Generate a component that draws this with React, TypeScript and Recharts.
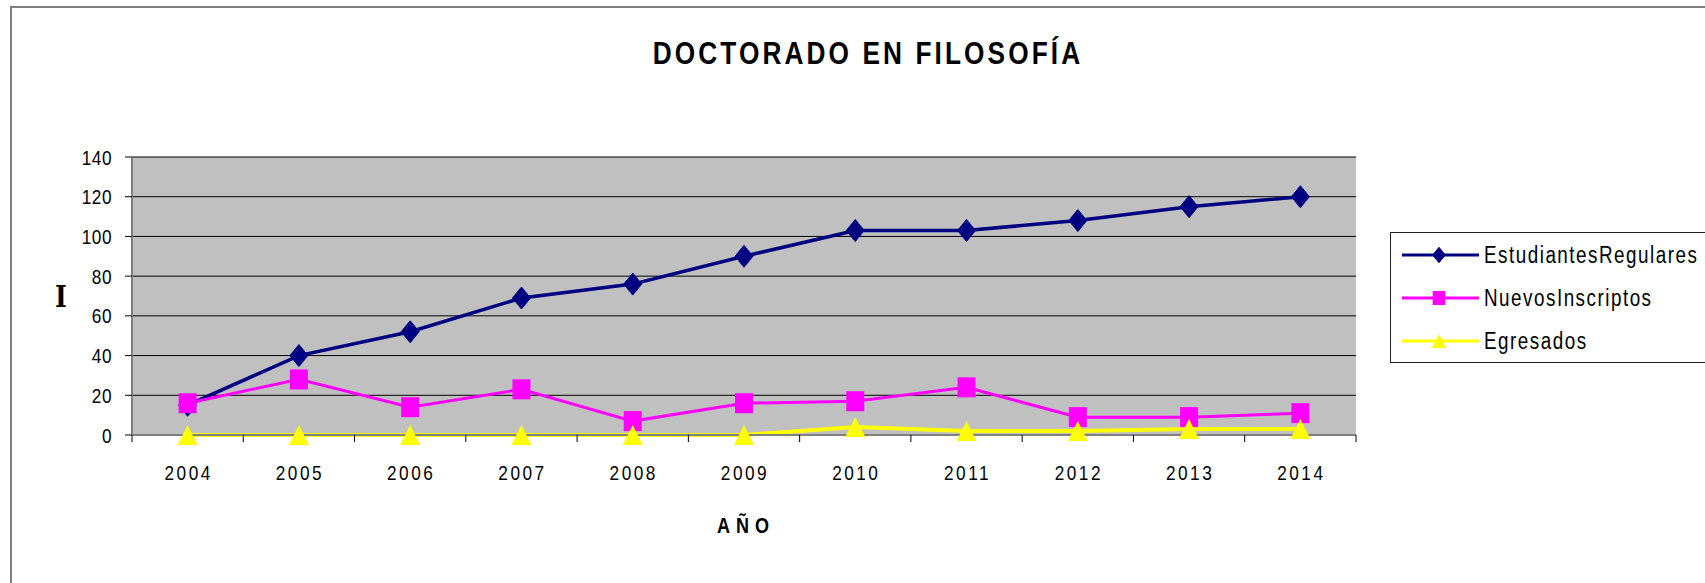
import React from 'react';
import {
  LineChart,
  Line,
  XAxis,
  YAxis,
  CartesianGrid,
  Legend,
} from 'recharts';

const years = ['2004', '2005', '2006', '2007', '2008', '2009', '2010', '2011', '2012', '2013', '2014'];
const estudiantesRegulares = [15, 40, 52, 69, 76, 90, 103, 103, 108, 115, 120];
const nuevosInscriptos = [16, 28, 14, 23, 7, 16, 17, 24, 9, 9, 11];
const egresados = [0, 0, 0, 0, 0, 0, 4, 2, 2, 3, 3];
const yTicks = [0, 20, 40, 60, 80, 100, 120, 140];

// no narrow font installed, so Liberation Sans is squeezed horizontally
const FONT = "'Liberation Sans', Arial, sans-serif";
const SQUEEZE = 0.82;

const W = 1705;
const H = 583;
const PLOT_LEFT = 132;
const PLOT_RIGHT = 1356;
const PLOT_TOP = 157;
const PLOT_BOTTOM = 435;
const BAND = (PLOT_RIGHT - PLOT_LEFT) / years.length;

const data = years.map((year, i) => ({
  year,
  regulares: estudiantesRegulares[i],
  nuevos: nuevosInscriptos[i],
  egresados: egresados[i],
}));

const series = [
  { key: 'regulares', name: 'EstudiantesRegulares', color: '#000080', width: 3.5, shape: 'diamond' },
  { key: 'nuevos', name: 'NuevosInscriptos', color: '#FF00FF', width: 3, shape: 'square' },
  { key: 'egresados', name: 'Egresados', color: '#FFFF00', width: 4, shape: 'triangle' },
];

const NText = ({
  x,
  y,
  anchor = 'start',
  size,
  spacing = 0,
  bold = false,
  children,
}: any) => (
  <text
    transform={`translate(${x},${y}) scale(${SQUEEZE},1)`}
    textAnchor={anchor}
    fontFamily={FONT}
    fontWeight={bold ? 'bold' : 'normal'}
    fontSize={size}
    letterSpacing={spacing / SQUEEZE}
    fill='#000'
  >
    {children}
  </text>
);

const marker = (shape: string, cx: number, cy: number, color: string, s = 1, key?: string) => {
  if (shape === 'diamond') {
    const pts = `${cx},${cy - 11 * s} ${cx + 9 * s},${cy} ${cx},${cy + 11 * s} ${cx - 9 * s},${cy}`;
    return <polygon key={key} points={pts} fill={color} stroke={color} />;
  }
  if (shape === 'square') {
    return <rect key={key} x={cx - 9 * s} y={cy - 10 * s} width={18 * s} height={20 * s} fill={color} />;
  }
  const pts = `${cx},${cy - 10 * s} ${cx + 10 * s},${cy + 10 * s} ${cx - 10 * s},${cy + 10 * s}`;
  return <polygon key={key} points={pts} fill={color} />;
};

const makeDot = (shape: string, color: string) => (props: any) => {
  const { cx, cy, index } = props;
  if (cx == null || cy == null) return <g key={`e-${shape}-${index}`} />;
  return marker(shape, cx, cy, color, 1, `${shape}-${index}`);
};

const XTick = (props: any) => {
  const { x, payload, index } = props;
  const last = index === years.length - 1;
  return (
    <g>
      <line x1={x - BAND / 2} x2={x - BAND / 2} y1={PLOT_BOTTOM} y2={PLOT_BOTTOM + 7} stroke='#000' />
      {last && (
        <line x1={x + BAND / 2} x2={x + BAND / 2} y1={PLOT_BOTTOM} y2={PLOT_BOTTOM + 7} stroke='#000' />
      )}
      <NText x={x + 1} y={480} anchor='middle' size={21} spacing={2.5}>
        {payload.value}
      </NText>
    </g>
  );
};

const YTick = (props: any) => {
  const { y, payload } = props;
  return (
    <g>
      <line x1={PLOT_LEFT - 7} x2={PLOT_LEFT} y1={y} y2={y} stroke='#000' />
      <NText x={112} y={y + 7.5} anchor='end' size={21} spacing={0.5}>
        {payload.value}
      </NText>
    </g>
  );
};

const LegendBox = () => (
  <div
    style={{
      width: 330,
      height: 131,
      border: '1px solid #222',
      background: '#fff',
      boxSizing: 'border-box',
    }}
  >
    <svg width={330} height={129}>
      {series.map((s, i) => {
        const cy = 22 + i * 43;
        return (
          <g key={s.key}>
            <line x1={11} x2={88} y1={cy} y2={cy} stroke={s.color} strokeWidth={3} />
            {marker(s.shape, 48, cy, s.color, 0.7)}
            <NText x={93} y={cy + 8} size={23} spacing={1.5}>
              {s.name}
            </NText>
          </g>
        );
      })}
    </svg>
  </div>
);

export default function App() {
  return (
    <div
      style={{
        position: 'absolute',
        left: 0,
        top: 0,
        width: W,
        height: H,
        overflow: 'hidden',
        background: '#fff',
      }}
    >
      <div
        style={{
          position: 'absolute',
          left: 10,
          top: 6,
          width: 2000,
          height: 1000,
          borderLeft: '2px solid #808080',
          borderTop: '2px solid #808080',
        }}
      />
      <svg width={W} height={90} style={{ position: 'absolute', left: 0, top: 0 }}>
        <NText x={868} y={64} anchor='middle' size={32} spacing={3.1} bold>
          DOCTORADO EN FILOSOFÍA
        </NText>
      </svg>
      <div style={{ position: 'absolute', left: 0, top: 0 }}>
        <LineChart
          width={W}
          height={H}
          data={data}
          margin={{ top: PLOT_TOP, right: W - PLOT_RIGHT, bottom: H - PLOT_BOTTOM - 50, left: 0 }}
        >
          <CartesianGrid vertical={false} stroke='#000' fill='#C0C0C0' fillOpacity={1} />
          <XAxis
            dataKey='year'
            height={50}
            padding={{ left: BAND / 2, right: BAND / 2 }}
            axisLine={{ stroke: '#808080', strokeWidth: 2 }}
            tickLine={false}
            tickSize={0}
            tick={<XTick />}
            interval={0}
            label={{
              content: () => (
                <NText x={746} y={533} anchor='middle' size={22} spacing={6} bold>
                  AÑO
                </NText>
              ),
            }}
          />
          <XAxis
            xAxisId='top'
            orientation='top'
            dataKey='year'
            height={0}
            tick={false}
            tickLine={false}
            axisLine={{ stroke: '#808080', strokeWidth: 2 }}
          />
          <YAxis
            width={PLOT_LEFT}
            domain={[0, 140]}
            ticks={yTicks}
            interval={0}
            tickLine={false}
            tickSize={0}
            axisLine={{ stroke: '#808080', strokeWidth: 2 }}
            tick={<YTick />}
            label={{
              content: () => (
                <text
                  transform='translate(61,307) scale(0.9,1.05)'
                  textAnchor='middle'
                  fontFamily="'DejaVu Serif', serif"
                  fontWeight='bold'
                  fontSize={28}
                  fill='#000'
                >
                  I
                </text>
              ),
            }}
          />
          <YAxis
            yAxisId='right'
            orientation='right'
            width={0}
            domain={[0, 140]}
            tick={false}
            tickLine={false}
            axisLine={{ stroke: '#808080', strokeWidth: 2 }}
          />
          <Legend
            layout='vertical'
            align='center'
            verticalAlign='middle'
            content={<LegendBox />}
            wrapperStyle={{ left: 1390, top: 232, width: 330, height: 131 }}
          />
          {series.map((s) => (
            <Line
              key={s.key}
              type='linear'
              dataKey={s.key}
              name={s.name}
              stroke={s.color}
              strokeWidth={s.width}
              dot={makeDot(s.shape, s.color)}
              activeDot={false}
              isAnimationActive={false}
            />
          ))}
        </LineChart>
      </div>
    </div>
  );
}
